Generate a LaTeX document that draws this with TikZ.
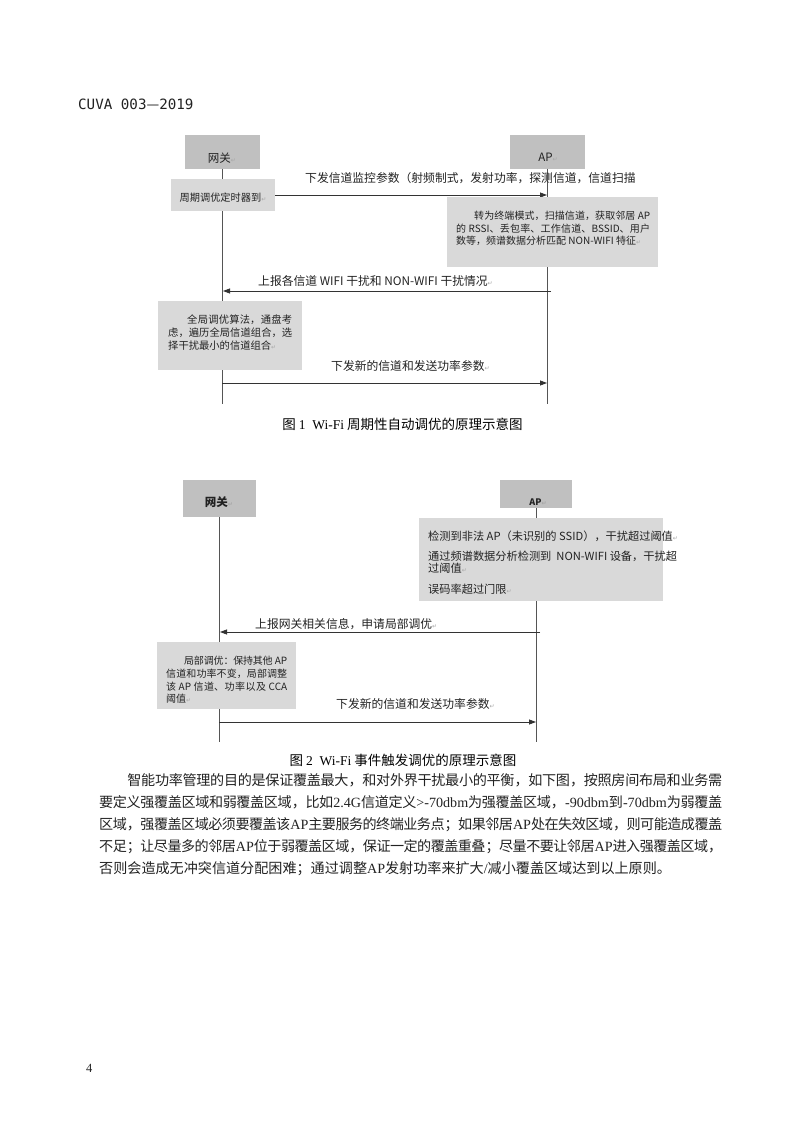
\documentclass[tikz,border=0pt]{standalone}
\usepackage{fontspec}
\setmainfont{Liberation Serif}
\newfontfamily\cjk{Noto Sans CJK SC}
\newfontfamily\monof{DejaVu Sans Mono}
\newfontfamily\dvs{DejaVu Sans}
\usetikzlibrary{arrows.meta}
\XeTeXlinebreaklocale "zh"
\XeTeXlinebreakskip=0pt plus 2pt minus 1.5pt
\definecolor{hdrgray}{HTML}{C0C0C0}
\definecolor{boxgray}{HTML}{D9D9D9}
\definecolor{lifegray}{HTML}{555555}
\definecolor{msggray}{HTML}{333333}
\definecolor{txt}{HTML}{222222}
\newcommand{\rtmark}{{\dvs\color{black!35}\fontsize{6}{6}\selectfont ↵}}
\newcommand{\lat}[1]{{\rmfamily #1}}
\begin{document}
\begin{tikzpicture}[x=1pt,y=-1pt,
  hdr/.style={fill=hdrgray, inner sep=0pt, outer sep=0pt},
  act/.style={fill=boxgray, inner sep=0pt, outer sep=0pt},
  life/.style={draw=lifegray, line width=0.9pt},
  msg/.style={draw=msggray, line width=0.8pt, -{Triangle[length=7pt,width=5pt]}},
  lbl/.style={font=\cjk\fontsize{11.8}{14}\selectfont, anchor=west, inner sep=0pt, text=txt},
  hdrtxt/.style={font=\cjk\fontsize{11.5}{13}\selectfont, inner sep=0pt, text=txt},
  boxtxt/.style={font=\cjk\fontsize{10}{12.5}\selectfont, inner sep=0pt, anchor=north west, text=txt},
  figcap/.style={font=\cjk\fontsize{13.5}{16}\selectfont, inner sep=0pt, text=black},
]
\fill[white] (0,0) rectangle (800,1131);
\path[use as bounding box] (0,0) rectangle (800,1131);

% page header and number
\node[anchor=west, inner sep=0pt, font=\monof\fontsize{14.2}{16}\selectfont, text=txt] (hdrline) at (78,104) {CUVA 003{\cjk —}2019};
\node[anchor=west, inner sep=0pt, font=\fontsize{12.5}{14}\selectfont, text=txt] (pagenum) at (86,1068) {4};

% ================= Figure 1 =================
\coordinate (gw1end) at (222,404);
\coordinate (ap1end) at (547,404);
\node[hdr, minimum width=75, minimum height=34] (gw1) at (222,152) {};
\node[hdr, minimum width=75, minimum height=34] (ap1) at (547,152) {};
\draw[life] (gw1.south) -- (gw1end);
\draw[life] (ap1.south) -- (ap1end);
\node[hdrtxt] (gw1t) at (222,158) {网关\rtmark};
\node[hdrtxt] (ap1t) at (548,157) {AP\rtmark};

\node[act, minimum width=104, minimum height=32] (timer) at (223,195) {};
\node[font=\cjk\fontsize{10.2}{12}\selectfont, inner sep=0pt, text=txt] (timert) at (223,198) {周期调优定时器到\rtmark};

\coordinate (a1e) at (547,195);
\draw[msg] (timer.east) -- (a1e);
\node[lbl] (a1l) at (305,178) {下发信道监控参数（射频制式，发射功率，探测信道，信道扫描};

\node[act, minimum width=211, minimum height=70] (scan) at (552.5,232) {};
\node[boxtxt, text width=194pt, align=justify] (scant) at (456,211)
  {\hspace*{18pt}转为终端模式，扫描信道，获取邻居 AP\linebreak 的 RSSI、丢包率、工作信道、BSSID、用户\linebreak 数等，频谱数据分析匹配 NON-WIFI 特征\rtmark};

\coordinate (a2s) at (551,291);
\coordinate (a2e) at (223,291);
\draw[msg] (a2s) -- (a2e);
\node[lbl] (a2l) at (258,281) {上报各信道 WIFI 干扰和 NON-WIFI 干扰情况\rtmark};

\node[act, minimum width=144, minimum height=69] (alg) at (230,335.5) {};
\node[boxtxt, font=\cjk\fontsize{10.3}{13}\selectfont, text width=124pt, align=justify] (algt) at (168,314.8)
  {\hspace*{19pt}全局调优算法，通盘考\linebreak 虑，遍历全局信道组合，选\linebreak 择干扰最小的信道组合\rtmark};

\coordinate (a3s) at (222,383);
\coordinate (a3e) at (547,383);
\draw[msg] (a3s) -- (a3e);
\node[lbl] (a3l) at (331,366) {下发新的信道和发送功率参数\rtmark};

\node[figcap] (cap1) at (402.5,424) {图 {\rmfamily 1\hspace{0.5em}Wi-Fi} 周期性自动调优的原理示意图};

% ================= Figure 2 =================
\coordinate (gw2end) at (219,742);
\coordinate (ap2end) at (536,742);
\node[hdr, minimum width=73, minimum height=37] (gw2) at (219,498.5) {};
\node[hdr, minimum width=72, minimum height=28] (ap2) at (536,494) {};
\draw[life] (gw2.south) -- (gw2end);
\draw[life] (ap2.south) -- (ap2end);
\node[hdrtxt, font=\cjk\bfseries\fontsize{11.5}{13}\selectfont] (gw2t) at (219,502) {网关\rtmark};
\node[hdrtxt, font=\cjk\bfseries\fontsize{9}{11}\selectfont] (ap2t) at (538,502) {AP\rtmark};

\node[act, minimum width=244, minimum height=83] (detect) at (541,559.5) {};
\node[boxtxt, font=\cjk\fontsize{11.2}{12.5}\selectfont, align=left] (detectt) at (428,530.4)
  {检测到非法 AP（未识别的 SSID），干扰超过阈值\rtmark\\[7.5pt]
   通过频谱数据分析检测到\ \ NON-WIFI 设备，干扰超\\
   过阈值\rtmark\\[8.5pt]
   误码率超过门限\rtmark};

\coordinate (b1s) at (540,632);
\coordinate (b1e) at (220,632);
\draw[msg] (b1s) -- (b1e);
\node[lbl] (b1l) at (255,624) {上报网关相关信息，申请局部调优\rtmark};

\node[act, minimum width=139, minimum height=67] (local) at (226.5,675.5) {};
\node[boxtxt, font=\cjk\fontsize{10}{12.7}\selectfont, text width=121pt, align=justify] (localt) at (166,656)
  {\hspace*{18pt}局部调优：保持其他 AP\linebreak 信道和功率不变，局部调整\linebreak 该 AP 信道、功率以及 CCA\linebreak 阈值\rtmark};

\coordinate (b2s) at (219,722);
\coordinate (b2e) at (536,722);
\draw[msg] (b2s) -- (b2e);
\node[lbl] (b2l) at (336,704) {下发新的信道和发送功率参数\rtmark};

\node[figcap] (cap2) at (403,760) {图 {\rmfamily 2\hspace{0.5em}Wi-Fi} 事件触发调优的原理示意图};

% ================= Body paragraph =================
\node[anchor=north west, inner sep=0pt, text width=623pt, align=justify,
      font=\cjk\fontsize{14.1}{22}\selectfont, text=txt] (para) at (99,773)
  {\hspace*{28.2pt}智能功率管理的目的是保证覆盖最大，和对外界干扰最小的平衡，如下图，按照房间布局和业务需\linebreak
   要定义强覆盖区域和弱覆盖区域，比如\lat{2.4G}信道定义\lat{>-70dbm}为强覆盖区域，\lat{-90dbm}到\lat{-70dbm}为弱覆盖\linebreak
   区域，强覆盖区域必须要覆盖该\lat{AP}主要服务的终端业务点；如果邻居\lat{AP}处在失效区域，则可能造成覆盖\linebreak
   不足；让尽量多的邻居\lat{AP}位于弱覆盖区域，保证一定的覆盖重叠；尽量不要让邻居\lat{AP}进入强覆盖区域，\linebreak
   否则会造成无冲突信道分配困难；通过调整\lat{AP}发射功率来扩大\lat{/}减小覆盖区域达到以上原则。};
\end{tikzpicture}
\end{document}
